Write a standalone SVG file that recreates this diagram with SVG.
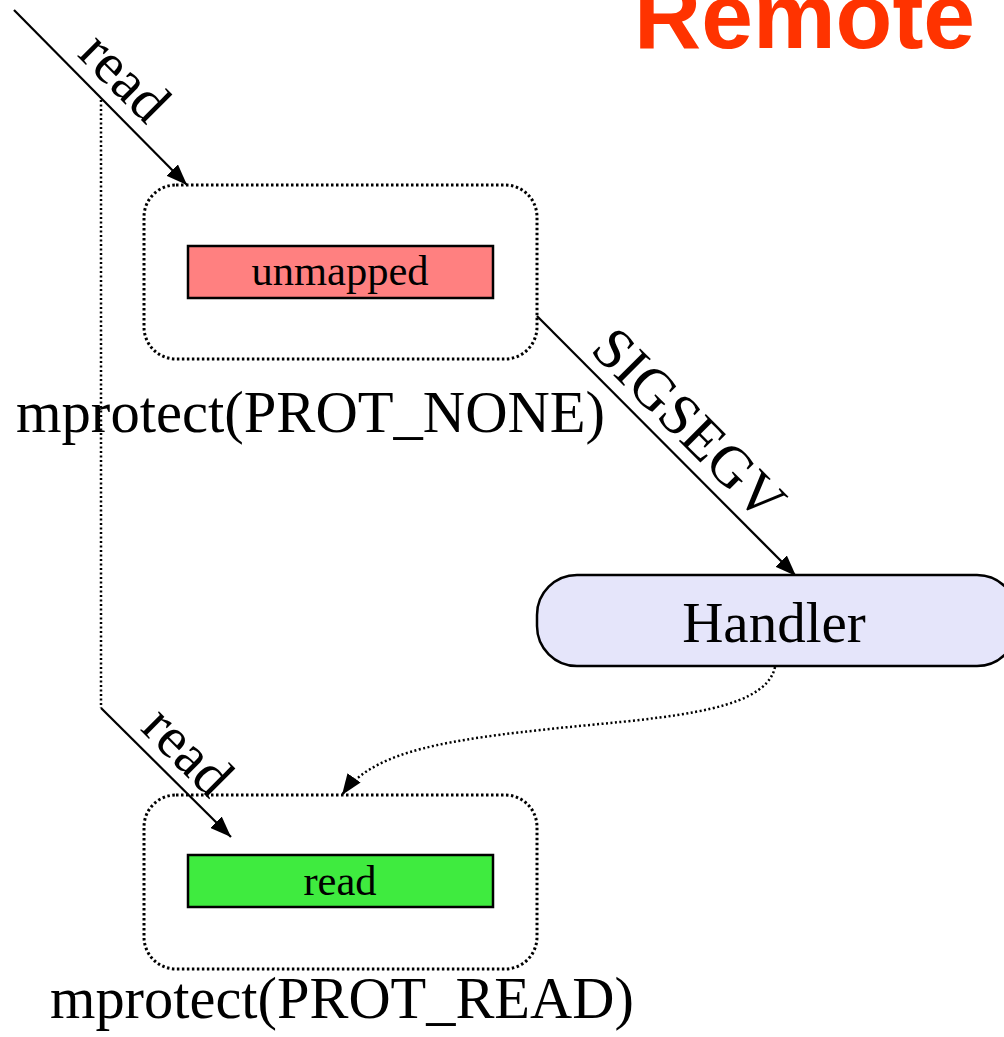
<svg xmlns="http://www.w3.org/2000/svg" width="1004" height="1037" viewBox="0 0 1004 1037">
  <style>
    .serif { font-family: "Liberation Serif", "Times New Roman", serif; fill: #000; }
    .frame { fill: none; stroke: #000; stroke-width: 3; stroke-dasharray: 2.5 2.5; }
    .page { stroke: #000; stroke-width: 2.5; }
    .edge { fill: none; stroke: #000; stroke-width: 2.2; }
    .dotted { fill: none; stroke: #000; stroke-width: 2.5; stroke-dasharray: 2 2.5; }
  </style>
  <defs>
    <marker id="arrow" markerUnits="userSpaceOnUse" markerWidth="22" markerHeight="16" refX="21" refY="8" orient="auto">
      <path d="M0,0 L21,8 L0,16 Z" fill="#000"/>
    </marker>
  </defs>
  <rect width="1004" height="1037" fill="#fff"/>

  <!-- title -->
  <text x="634" y="48" font-family="Liberation Sans, Arial, sans-serif" font-weight="bold" font-size="93" fill="#FF3300">Remote</text>

  <!-- connectors -->
  <g id="connectors">
    <path class="edge" d="M14,10 L187,185" marker-end="url(#arrow)"/>
    <path class="dotted" d="M101,100 L101,708"/>
    <path class="edge" d="M101,708 L231,837" marker-end="url(#arrow)"/>
    <path class="edge" d="M537,316 L796,576" marker-end="url(#arrow)"/>
    <path class="dotted" d="M775,667 C765,715 650,718 540,730 C430,742 370,755 342,795" marker-end="url(#arrow)"/>
    <text class="serif" font-size="58" text-anchor="middle" transform="translate(103,99) rotate(45)" y="-12">read</text>
    <text class="serif" font-size="58" text-anchor="middle" transform="translate(166,773) rotate(45)" y="-12">read</text>
    <text class="serif" font-size="58" text-anchor="middle" transform="translate(667,446) rotate(45)" y="-12">SIGSEGV</text>
  </g>

  <!-- page state before fault -->
  <g id="node-prot-none">
    <rect class="frame" x="144" y="185" width="393" height="174" rx="32"/>
    <rect class="page" x="188" y="246" width="305" height="52" fill="#FF8080"/>
    <text class="serif" x="340" y="285" font-size="42.5" text-anchor="middle">unmapped</text>
    <text class="serif" x="16" y="432" font-size="58.6">mprotect(PROT_NONE)</text>
  </g>

  <!-- signal handler -->
  <g id="node-handler">
    <rect class="page" x="537" y="575" width="480" height="91" rx="40" fill="#E5E5FA"/>
    <text class="serif" x="774" y="642" font-size="57" text-anchor="middle">Handler</text>
  </g>

  <!-- page state after handler -->
  <g id="node-prot-read">
    <rect class="frame" x="144" y="795" width="393" height="174" rx="32"/>
    <rect class="page" x="188" y="855" width="305" height="52" fill="#3FEB3F"/>
    <text class="serif" x="340" y="895" font-size="42.5" text-anchor="middle">read</text>
    <text class="serif" x="50" y="1018" font-size="58.4">mprotect(PROT_READ)</text>
  </g>
</svg>
